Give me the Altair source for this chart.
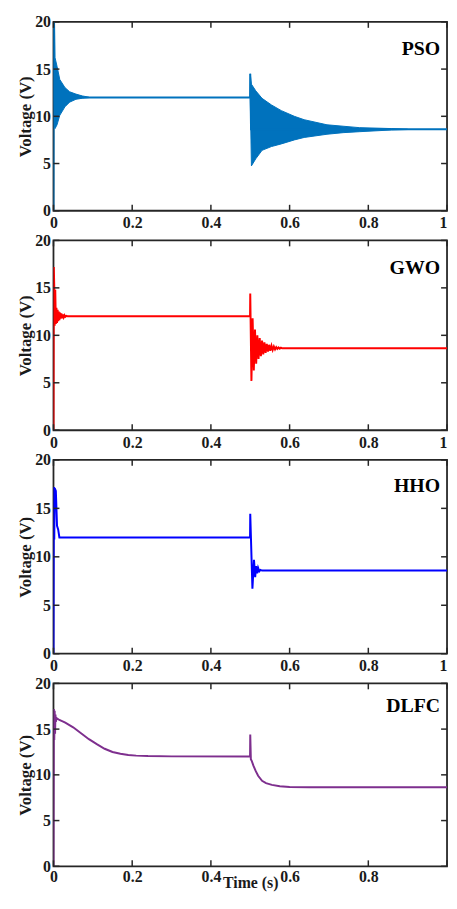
import altair as alt
import pandas as pd

# ---------------- data ----------------
XTICKS = [0, 0.2, 0.4, 0.6, 0.8, 1.0]
YTICKS = [0, 5, 10, 15, 20]
NAMES = ["PSO", "GWO", "HHO", "DLFC"]
COLORS = ["#0072BD", "#FF0000", "#0000FF", "#7E2F8E"]

# PSO: main trace + dense-oscillation envelopes
PSO_t = [0, 0.0008, 0.002, 0.4995, 0.5, 0.502, 1.0]
PSO_v = [0, 20.5, 12.0, 12.0, 14.5, 8.62, 8.62]
PSO_A_t = [0.0008, 0.0025, 0.004, 0.009, 0.016, 0.029, 0.041, 0.057, 0.074, 0.09]
PSO_A_hi = [20.5, 20.5, 16.2, 15.3, 13.9, 13.05, 12.6, 12.35, 12.15, 12.03]
PSO_A_lo = [12.0, 8.8, 8.7, 9.1, 10.1, 11.0, 11.5, 11.8, 11.92, 11.98]
PSO_B_t = [0.5, 0.503, 0.514, 0.53, 0.554, 0.579, 0.612, 0.637, 0.695, 0.736, 0.777, 0.859, 0.9]
PSO_B_hi = [14.5, 13.4, 12.7, 11.9, 11.2, 10.6, 10.0, 9.64, 9.1, 8.95, 8.8, 8.7, 8.64]
PSO_B_lo = [12.0, 4.75, 5.5, 6.4, 6.8, 7.08, 7.5, 7.76, 8.1, 8.27, 8.37, 8.55, 8.6]

GWO_t = [0, 0.0008, 0.002, 0.003, 0.0045, 0.006, 0.0075, 0.009, 0.0105, 0.012,
         0.0135, 0.015, 0.0165, 0.018, 0.02, 0.022, 0.024, 0.026, 0.028, 0.03,
         0.033, 0.036, 0.4995, 0.5, 0.503, 0.506, 0.509, 0.512, 0.515, 0.518,
         0.521, 0.524, 0.527, 0.530, 0.533, 0.536, 0.539, 0.542, 0.545, 0.548,
         0.551, 0.554, 0.557, 0.560, 0.563, 0.566, 0.569, 0.572, 0.575, 0.578,
         0.581, 0.585, 1.0]
GWO_v = [0, 17.2, 15.0, 11.0, 14.8, 11.2, 12.9, 11.3, 12.7, 11.5,
         12.5, 11.6, 12.4, 11.75, 12.3, 11.8, 12.2, 11.9, 12.1, 11.95,
         12.05, 12.0, 12.0, 14.4, 5.2, 11.8, 6.3, 10.6, 7.0, 10.0,
         7.5, 9.7, 7.8, 9.45, 8.0, 9.25, 8.15, 9.1, 8.28, 9.0,
         8.38, 8.9, 8.46, 8.82, 8.52, 8.76, 8.57, 8.72, 8.6, 8.69,
         8.63, 8.65, 8.65]

HHO_t = [0, 0.001, 0.002, 0.003, 0.006, 0.009, 0.012, 0.015, 0.4995, 0.5,
         0.5055, 0.5095, 0.5125, 0.515, 0.5175, 0.52, 0.523, 0.526, 0.53, 1.0]
HHO_v = [0, 17.2, 11.8, 17.1, 16.8, 13.2, 12.8, 12.0, 12.0, 14.45,
         6.7, 9.7, 7.9, 9.05, 8.3, 8.85, 8.5, 8.65, 8.58, 8.58]

DLFC_t = [0, 0.001, 0.002, 0.003, 0.004, 0.005, 0.006, 0.008, 0.015, 0.03,
          0.05, 0.07, 0.09, 0.11, 0.13, 0.15, 0.17, 0.19, 0.21, 0.24,
          0.3, 0.4995, 0.5, 0.5015, 0.504, 0.508, 0.514, 0.52, 0.53, 0.54,
          0.555, 0.575, 0.6, 0.65, 1.0]
DLFC_v = [0, 17.2, 13.8, 17.0, 14.5, 16.6, 15.8, 16.2, 16.0, 15.7,
          15.2, 14.55, 13.9, 13.35, 12.85, 12.5, 12.3, 12.18, 12.1, 12.05,
          12.02, 12.0, 14.4, 11.7, 11.5, 11.0, 10.4, 9.9, 9.35, 9.1,
          8.9, 8.75, 8.68, 8.65, 8.65]

# ---------------- layout (kept inside the 457x909 page) ----------------
W = 398
HEIGHTS = [191, 192, 196, 185]
LABEL_Y = [27, 28, 26, 23]
FONT = "Liberation Serif"
FRAME = "#262626"


def line_df(t, v):
    return pd.DataFrame({"t": t, "v": v, "i": list(range(len(t)))})


def band_df(parts):
    rows = []
    for seg, (t, lo, hi) in parts.items():
        for a, b, c in zip(t, lo, hi):
            rows.append({"seg": seg, "t": a, "lo": b, "hi": c})
    return pd.DataFrame(rows)


def panel(k, ldf, bdf, bottom):
    color = COLORS[k]
    h = HEIGHTS[k]
    xscale = alt.Scale(domain=[0, 1], nice=False, zero=False)
    yscale = alt.Scale(domain=[0, 20], nice=False)
    xaxis_kw = dict(values=XTICKS, format="~g", labelPadding=4,
                    labelAlign={"expr": "datum.value >= 1 ? 'right' : 'center'"})
    if bottom:
        xaxis_kw["title"] = "Time (s)"
        xaxis_kw["titlePadding"] = -10
        xaxis_kw["titleFontSize"] = 16
        xaxis_kw["labelPadding"] = 2
        xaxis_kw["labelExpr"] = "datum.value >= 1 ? '' : datum.label"
    else:
        xaxis_kw["title"] = None
    X = alt.X("t:Q", scale=xscale, axis=alt.Axis(**xaxis_kw))
    yaxis = alt.Axis(values=YTICKS, format="d", title="Voltage (V)",
                     labelPadding=3, titlePadding=0)
    Y = alt.Y("v:Q", scale=yscale, axis=yaxis)

    layers = []
    if bdf is not None:
        layers.append(
            alt.Chart(bdf).mark_area(color=color, stroke=color, strokeWidth=1,
                                     clip=True).encode(
                x=X, y=alt.Y("lo:Q", scale=yscale, axis=yaxis), y2="hi:Q",
                detail="seg:N")
        )
    layers.append(
        alt.Chart(ldf).mark_line(color=color, strokeWidth=2, clip=True).encode(
            x=X, y=Y, order="i:Q")
    )
    xt = pd.DataFrame({"t": XTICKS})
    yt = pd.DataFrame({"v": YTICKS})
    layers.append(alt.Chart(xt).mark_rule(color=FRAME, strokeWidth=1.5).encode(
        x=X, y=alt.value(h), y2=alt.value(h - 6)))
    layers.append(alt.Chart(xt).mark_rule(color=FRAME, strokeWidth=1.5).encode(
        x=X, y=alt.value(0), y2=alt.value(6)))
    layers.append(alt.Chart(yt).mark_rule(color=FRAME, strokeWidth=1.5).encode(
        y=Y, x=alt.value(0), x2=alt.value(6)))
    layers.append(alt.Chart(yt).mark_rule(color=FRAME, strokeWidth=1.5).encode(
        y=Y, x=alt.value(W), x2=alt.value(W - 6)))
    layers.append(
        alt.Chart(pd.DataFrame({"name": [NAMES[k]]})).mark_text(
            font=FONT, fontSize=20, fontWeight="bold", align="right",
            baseline="middle", color="black").encode(
            text="name:N", x=alt.value(W - 7), y=alt.value(LABEL_Y[k]))
    )
    return alt.layer(*layers).properties(width=W, height=h)


p1 = panel(0, line_df(PSO_t, PSO_v),
           band_df({"a": (PSO_A_t, PSO_A_lo, PSO_A_hi),
                    "b": (PSO_B_t, PSO_B_lo, PSO_B_hi)}), False)
p2 = panel(1, line_df(GWO_t, GWO_v), None, False)
p3 = panel(2, line_df(HHO_t, HHO_v), None, False)
p4 = panel(3, line_df(DLFC_t, DLFC_v), None, True)

chart = alt.vconcat(p1, p2, p3, p4, spacing=30, bounds="flush").properties(
    padding={"left": 8, "top": 0, "right": 0, "bottom": 0}
).configure_view(
    stroke=FRAME, strokeWidth=1.8
).configure_axis(
    domain=False, ticks=False, grid=False,
    labelFont=FONT, labelFontWeight="bold", labelFontSize=16, labelColor="#1a1a1a",
    titleFont=FONT, titleFontWeight="bold", titleFontSize=17, titleColor="#1a1a1a",
)

chart.save("out.html", embed_options={"renderer": "svg", "actions": False})
